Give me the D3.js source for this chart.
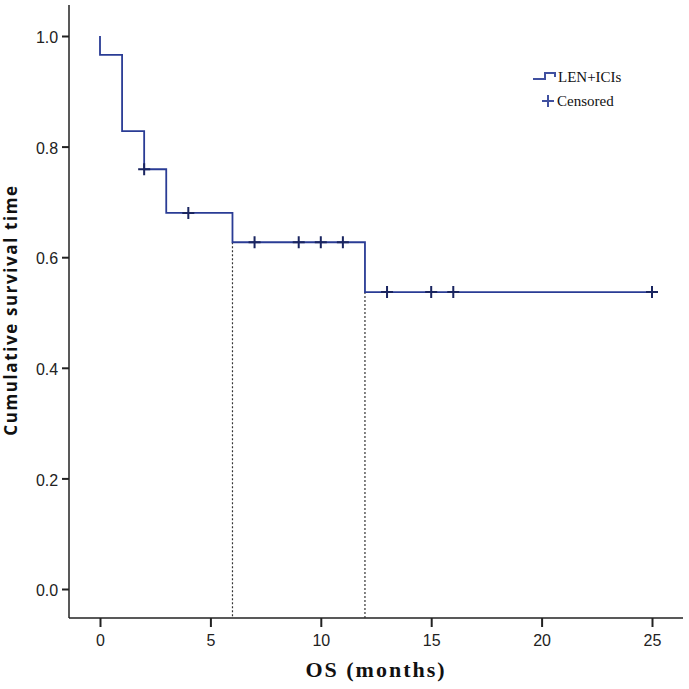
<!DOCTYPE html>
<html><head><meta charset="utf-8">
<script src="https://cdn.jsdelivr.net/npm/d3@7"></script>
<style>body{margin:0;background:#fff}</style>
</head><body>
<svg id="c" width="689" height="689"></svg>
<script>
// Kaplan-Meier steps: time of event and survival after it
const stepTimes = [0, 1, 2, 3, 6, 12];
const stepSurv  = [0.966, 0.828, 0.759, 0.680, 0.627, 0.537];
const endTime = 25;
const censorTimes = [2, 4, 7, 9, 10, 11, 13, 15, 16, 25];
const medianLines = [6, 12];
const xTicks = [0, 5, 10, 15, 20, 25];
const yTicks = [0.0, 0.2, 0.4, 0.6, 0.8, 1.0];
const seriesName = "LEN+ICIs";
const censorName = "Censored";

const svg = d3.select("#c");
const x = d3.scaleLinear().domain([0, 25]).range([100, 652]);
const y = d3.scaleLinear().domain([0, 1]).range([589, 36]);
const lineColor = "#2a3c95", censorColor = "#1a2560";

// axes
const yAxis = d3.axisLeft(y).tickValues(yTicks).tickFormat(d3.format(".1f")).tickSize(7).tickSizeOuter(0);
const gy = svg.append("g").attr("transform", "translate(69,0)").call(yAxis);
gy.select(".domain").remove();
svg.append("line").attr("x1", 69).attr("x2", 69).attr("y1", 5).attr("y2", 618).attr("stroke", "#222").attr("stroke-width", 1.5);
const xAxis = d3.axisBottom(x).tickValues(xTicks).tickSize(9).tickSizeOuter(0);
const gx = svg.append("g").attr("transform", "translate(0,618)").call(xAxis);
gx.select(".domain").remove();
svg.append("line").attr("x1", 69).attr("x2", 683).attr("y1", 618).attr("y2", 618).attr("stroke", "#222").attr("stroke-width", 1.5);
[gx, gy].forEach(g => {
  g.selectAll(".tick line").attr("stroke", "#222").attr("stroke-width", 2);
  g.selectAll(".tick text").attr("font-family", "Liberation Sans, Arial, sans-serif").attr("font-size", 16).attr("fill", "#222");
});
gy.selectAll(".tick text").attr("dx", "-0.05em").attr("dy", "0.42em");
gx.selectAll(".tick text").attr("dy", "1.0em");

// median dotted lines
medianLines.forEach(t => {
  const i = stepTimes.indexOf(t);
  svg.append("line").attr("x1", x(t)).attr("x2", x(t)).attr("y1", y(stepSurv[i])).attr("y2", 618)
    .attr("stroke", "#333").attr("stroke-width", 1.2).attr("stroke-dasharray", "2,2");
});

// KM curve
const pts = [[0, 1]];
stepTimes.forEach((t, i) => { pts.push([t, stepSurv[i]]); });
pts.push([endTime, stepSurv[stepSurv.length - 1]]);
const line = d3.line().x(d => x(d[0])).y(d => y(d[1])).curve(d3.curveStepAfter);
svg.append("path").attr("d", line(pts)).attr("fill", "none").attr("stroke", lineColor).attr("stroke-width", 1.8);

// censors
function survAt(t) {
  let s = 1;
  stepTimes.forEach((st, i) => { if (st <= t) s = stepSurv[i]; });
  return s;
}
censorTimes.forEach(t => {
  const cx = x(t), cy = y(survAt(t));
  svg.append("path").attr("d", `M${cx - 6},${cy}H${cx + 6}M${cx},${cy - 6}V${cy + 6}`)
    .attr("stroke", censorColor).attr("stroke-width", 2).attr("fill", "none");
});

// legend
svg.append("path").attr("d", "M533,79H545V73H555V77").attr("fill", "none").attr("stroke", "#4050a0").attr("stroke-width", 2);
svg.append("text").attr("x", 558).attr("y", 82).text(seriesName)
  .attr("font-family", "Liberation Serif, Times New Roman, serif").attr("font-size", 15).attr("fill", "#111");
svg.append("path").attr("d", "M542,101H554M548,95V107").attr("stroke", "#4050a0").attr("stroke-width", 2);
svg.append("text").attr("x", 557).attr("y", 106).text(censorName)
  .attr("font-family", "Liberation Serif, Times New Roman, serif").attr("font-size", 15).attr("fill", "#111");

// axis titles
svg.append("text").attr("transform", "translate(17,310) rotate(-90)").attr("text-anchor", "middle")
  .attr("font-family", "Open Sans, Liberation Sans, sans-serif").attr("font-weight", "bold").attr("font-size", 17)
  .attr("letter-spacing", "1.6px").attr("fill", "#111").text("Cumulative survival time");
svg.append("text").attr("x", 376).attr("y", 677).attr("text-anchor", "middle")
  .attr("font-family", "Liberation Serif, serif").attr("font-weight", "bold").attr("font-size", 22)
  .attr("letter-spacing", "2px").attr("fill", "#111").text("OS (months)");
</script>
</body></html>
